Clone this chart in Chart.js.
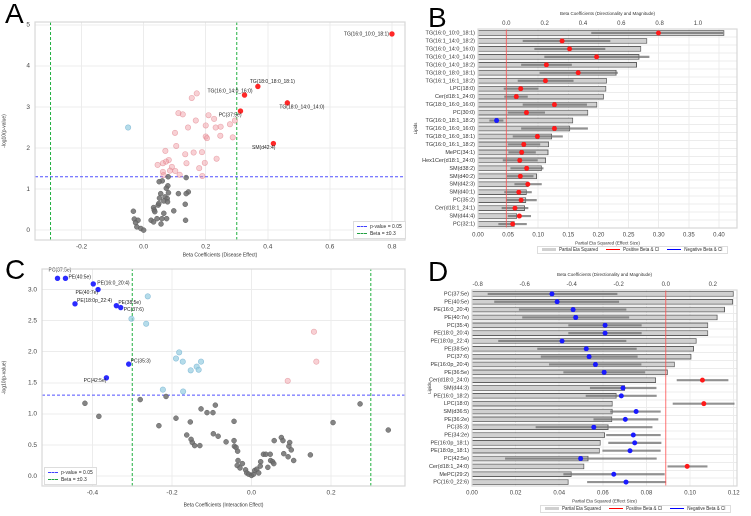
<!DOCTYPE html>
<html>
<head>
<meta charset="utf-8">
<script src="https://cdn.jsdelivr.net/npm/chart.js@4/dist/chart.umd.min.js"></script>
<style>
  body { margin: 0; background: #fff; font-family: "Liberation Sans", Arial, sans-serif; }
  #page { position: relative; width: 751px; height: 516px; overflow: hidden; }
  .pane { position: absolute; }
  .letter { position: absolute; font-size: 28px; color: #000; z-index: 5; }
  .lgd { position: absolute; font-size: 5px; color: #333; background: rgba(255,255,255,0.9); border: 1px solid #ddd; padding: 1px 3px; line-height: 7px; z-index: 5; }
  .lgd span.sw { display: inline-block; width: 10px; vertical-align: middle; margin-right: 3px; }
  .hl { position: absolute; font-size: 4.5px; color: #333; white-space: nowrap; border: 1px solid #ddd; padding: 0 4px; line-height: 6px; z-index: 5; }
  .hl span.sw { display: inline-block; width: 14px; height: 3px; vertical-align: middle; margin: 0 3px 0 8px; }
</style>
</head>
<body>
<div id="page">
  <canvas id="chartA" class="pane" style="left:0;top:0;z-index:1"></canvas>
  <canvas id="chartC" class="pane" style="left:0;top:258px;z-index:1"></canvas>
  <canvas id="chartB" class="pane" style="left:405px;top:0;z-index:2"></canvas>
  <canvas id="chartD" class="pane" style="left:405px;top:258px;z-index:2"></canvas>
  <div class="letter" style="left:5px;top:-2px">A</div>
  <div class="letter" style="left:428px;top:2px">B</div>
  <div class="letter" style="left:5px;top:254px">C</div>
  <div class="letter" style="left:428px;top:256px">D</div>
  <div class="lgd" style="left:353px;top:221px">
    <div><span class="sw" style="border-top:1px dashed #4040ff"></span>p-value = 0.05</div>
    <div><span class="sw" style="border-top:1px dashed #20a040"></span>Beta = ±0.3</div>
  </div>
  <div class="lgd" style="left:44px;top:467px">
    <div><span class="sw" style="border-top:1px dashed #4040ff"></span>p-value = 0.05</div>
    <div><span class="sw" style="border-top:1px dashed #20a040"></span>Beta = ±0.3</div>
  </div>
  <div class="hl" style="left:537px;top:246px"><span class="sw" style="background:#d0d0d0;margin-left:0"></span>Partial Eta Squared<span class="sw" style="height:1px;background:#f00"></span>Positive Beta &amp; CI<span class="sw" style="height:1px;background:#00f"></span>Negative Beta &amp; CI</div>
  <div class="hl" style="left:540px;top:505px"><span class="sw" style="background:#d0d0d0;margin-left:0"></span>Partial Eta Squared<span class="sw" style="height:1px;background:#f00"></span>Positive Beta &amp; CI<span class="sw" style="height:1px;background:#00f"></span>Negative Beta &amp; CI</div>
</div>
<script>
// ---------- Panel A: disease effect volcano ----------
const aGray = [[0.079,1.3],[0.137,1.28],[0.06,1.2],[0.05,1.18],[0.078,1.08],[0.073,1.02],[0.144,0.93],[0.137,0.89],[0.112,0.89],[0.08,0.91],[0.055,0.89],[0.069,0.81],[0.051,0.78],[0.076,0.77],[0.065,0.71],[0.077,0.69],[0.047,0.61],[0.134,0.63],[0.032,0.55],[0.034,0.49],[0.036,0.45],[0.097,0.47],[-0.033,0.46],[-0.03,0.27],[-0.018,0.24],[-0.026,0.18],[-0.022,0.08],[-0.009,0.04],[0,0],[0.024,0.24],[0.032,0.2],[0.043,0.28],[0.059,0.28],[0.074,0.28],[0.056,0.15],[0.135,0.24],[0.049,0.65],[0.065,0.41]];
const aPink = [[0.171,3.33],[0.155,3.22],[0.112,2.85],[0.126,2.82],[0.168,2.67],[0.209,2.8],[0.227,2.71],[0.294,2.67],[0.143,2.5],[0.2,2.55],[0.232,2.5],[0.248,2.52],[0.278,2.58],[0.101,2.37],[0.2,2.28],[0.204,2.24],[0.247,2.3],[0.287,2.26],[0.105,2.05],[0.07,1.93],[0.134,1.85],[0.161,1.89],[0.188,1.9],[0.235,1.74],[0.081,1.71],[0.072,1.67],[0.062,1.63],[0.045,1.59],[0.091,1.54],[0.138,1.63],[0.197,1.64],[0.179,1.51],[0.102,1.44],[0.062,1.42],[0.085,1.45],[0.116,1.35],[0.189,1.32],[0.064,1.34]];
const aBlue = [[-0.05,2.5]];
const aSigNames = ['TG(16:0_10:0_18:1)','TG(18:0_18:0_18:1)','TG(16:0_14:0_16:0)','TG(18:0_14:0_14:0)','PC(37:5e)','SM(d42:4)'];
const aSigBeta = [0.80, 0.368, 0.325, 0.463, 0.312, 0.418];
const aSigLogP = [4.78, 3.5, 3.29, 3.1, 2.9, 2.11];
const aTicksX = [-0.2, 0, 0.2, 0.4, 0.6, 0.8];
const aTicksY = [0, 1, 2, 3, 4, 5];

// ---------- Panel C: interaction effect volcano ----------
const cGray = [[-0.419,1.17],[-0.384,0.96],[-0.28,1.23],[-0.215,1.28],[-0.233,0.81],[-0.19,0.93],[-0.154,0.87],[-0.127,1.08],[-0.112,1.02],[-0.097,1.02],[-0.091,1.14],[-0.096,0.68],[-0.084,0.64],[-0.163,0.66],[-0.152,0.59],[-0.149,0.54],[-0.143,0.49],[-0.13,0.49],[-0.064,0.55],[-0.044,0.88],[-0.044,0.57],[-0.043,0.48],[-0.039,0.46],[-0.035,0.4],[-0.034,0.25],[-0.023,0.2],[-0.036,0.17],[-0.029,0.13],[-0.015,0.1],[-0.012,0.05],[-0.007,0.03],[0,0.01],[0.005,0.03],[0.008,0.09],[0.013,0.11],[0.018,0.05],[0.023,0.23],[0.022,0.16],[0.03,0.35],[0.036,0.35],[0.047,0.35],[0.041,0.14],[0.048,0.25],[0.053,0.23],[0.056,0.2],[0.057,0.57],[0.075,0.62],[0.079,0.57],[0.081,0.36],[0.092,0.31],[0.094,0.48],[0.096,0.54],[0.1,0.42],[0.106,0.25],[0.148,0.34],[0.205,0.86],[0.273,1.16],[0.344,0.74]];
const cLightBlue = [[-0.261,2.89],[-0.302,2.53],[-0.265,2.45],[-0.182,1.99],[-0.19,1.89],[-0.173,1.84],[-0.127,1.84],[-0.138,1.76],[-0.153,1.7],[-0.133,1.71],[-0.223,1.39],[-0.172,1.36]];
const cPink = [[0.157,2.32],[0.163,1.84],[0.091,1.53]];
const cSigNames = ['PC(37:5e)','PE(40:5e)','PE(16:0_20:4)','PE(40:7e)','PE(18:0p_22:4)','PE(38:5e)','PC(37:6)','PC(35:3)','PC(42:5e)'];
const cSigBeta = [-0.488, -0.468, -0.398, -0.386, -0.444, -0.34, -0.329, -0.309, -0.365];
const cSigLogP = [3.18, 3.18, 3.09, 3.0, 2.77, 2.74, 2.71, 1.8, 1.58];
const cTicksX = [-0.4, -0.2, 0, 0.2];
const cTicksY = [0, 0.5, 1, 1.5, 2, 2.5, 3];

const pThreshold = -Math.log10(0.05);
const betaCut = 0.3;

// ---------- Panel B: disease effect sizes ----------
const bLipids = ['TG(16:0_10:0_18:1)','TG(16:1_14:0_18:2)','TG(16:0_14:0_16:0)','TG(16:0_14:0_14:0)','TG(16:0_14:0_18:2)','TG(18:0_18:0_18:1)','TG(16:1_16:1_18:2)','LPC(18:0)','Cer(d18:1_24:0)','TG(18:0_16:0_16:0)','PC(30:0)','TG(16:0_18:1_18:2)','TG(16:0_16:0_16:0)','TG(18:0_16:0_18:1)','TG(16:0_16:1_18:2)','MePC(34:1)','Hex1Cer(d18:1_24:0)','SM(d38:2)','SM(d40:2)','SM(d42:3)','SM(d40:1)','PC(35:2)','Cer(d18:1_24:1)','SM(d44:4)','PC(32:1)'];
const bEta = [0.409,0.281,0.271,0.268,0.264,0.230,0.214,0.213,0.209,0.198,0.183,0.158,0.153,0.123,0.118,0.117,0.113,0.106,0.098,0.084,0.081,0.080,0.078,0.065,0.061];
const bBeta = [0.794,0.291,0.33,0.471,0.209,0.375,0.204,0.075,0.052,0.251,0.105,-0.051,0.251,0.162,0.091,0.08,0.07,0.106,0.073,0.112,0.065,0.077,0.045,0.068,0.033];
const bLow = [0.445,0.087,0.148,0.2,0.079,0.175,0.061,-0.012,-0.009,0.087,0.009,-0.087,0.079,0.035,0.009,0.012,-0.017,0.023,0.005,0.044,-0.009,0,-0.023,0.009,-0.04];
const bHigh = [1.13,0.541,0.515,0.745,0.34,0.58,0.349,0.166,0.11,0.419,0.2,-0.017,0.424,0.293,0.175,0.152,0.162,0.192,0.14,0.183,0.131,0.157,0.113,0.127,0.105];
const bTicksEta = [0, 0.05, 0.1, 0.15, 0.2, 0.25, 0.3, 0.35, 0.4];
const bTicksBeta = [0, 0.2, 0.4, 0.6, 0.8, 1.0];

// ---------- Panel D: interaction effect sizes ----------
const dLipids = ['PC(37:5e)','PE(40:5e)','PE(16:0_20:4)','PE(40:7e)','PC(35:4)','PE(18:0_20:4)','PE(18:0p_22:4)','PE(38:5e)','PC(37:6)','PE(16:0p_20:4)','PE(36:5e)','Cer(d18:0_24:0)','SM(d44:3)','PE(16:0_18:2)','LPC(18:0)','SM(d36:5)','PE(36:2e)','PC(35:3)','PE(34:2e)','PE(16:0p_18:1)','PE(18:0p_18:1)','PC(42:5e)','Cer(d18:1_24:0)','MePC(29:2)','PC(16:0_22:6)'];
const dEta = [0.12,0.1197,0.116,0.1126,0.1083,0.1083,0.103,0.1018,0.1006,0.093,0.0898,0.0844,0.0702,0.0663,0.0645,0.0645,0.0643,0.0626,0.061,0.059,0.0586,0.0534,0.0515,0.0457,0.0443];
const dBeta = [-0.484,-0.462,-0.394,-0.383,-0.258,-0.258,-0.441,-0.338,-0.326,-0.299,-0.262,0.156,-0.182,-0.189,0.162,-0.126,-0.172,-0.306,-0.138,-0.132,-0.152,-0.362,0.091,-0.221,-0.169];
const dLow = [-0.756,-0.728,-0.623,-0.609,-0.413,-0.413,-0.711,-0.545,-0.53,-0.495,-0.434,0.048,-0.321,-0.339,0.031,-0.235,-0.306,-0.552,-0.252,-0.243,-0.268,-0.682,0.009,-0.434,-0.333];
const dHigh = [-0.207,-0.2,-0.169,-0.157,-0.104,-0.104,-0.169,-0.125,-0.121,-0.105,-0.089,0.265,-0.041,-0.04,0.291,-0.023,-0.033,-0.058,-0.023,-0.02,-0.023,-0.04,0.176,-0.006,0];
const dTicksEta = [0, 0.02, 0.04, 0.06, 0.08, 0.1, 0.12];
const dTicksBeta = [-0.8, -0.6, -0.4, -0.2, 0, 0.2];

const FONT = "'Liberation Sans', Arial, sans-serif";
Chart.defaults.font.family = FONT;
Chart.defaults.animation = false;
Chart.defaults.devicePixelRatio = 2;

const toPts = arr => arr.map(p => ({ x: p[0], y: p[1] }));
const zip = (xs, ys) => xs.map((x, i) => ({ x: x, y: ys[i] }));
const fixTicks = list => (s => { s.ticks = list.map(v => ({ value: v })); });

// frame around the plot area, like seaborn whitegrid
const framePlugin = {
  id: 'frame',
  afterDraw(chart) {
    const a = chart.chartArea, c = chart.ctx;
    c.save(); c.strokeStyle = '#d8d8d8'; c.lineWidth = 1.2;
    c.strokeRect(a.left, a.top, a.right - a.left, a.bottom - a.top); c.restore();
  }
};

// text next to labelled points; shift is [dx, dy, align]
const labelPlugin = {
  id: 'ptLabels',
  afterDatasetsDraw(chart) {
    const c = chart.ctx;
    chart.data.datasets.forEach((ds, di) => {
      if (!ds.names) return;
      const meta = chart.getDatasetMeta(di);
      c.save(); c.font = '5px ' + FONT; c.fillStyle = '#222'; c.textBaseline = 'middle';
      meta.data.forEach((pt, i) => {
        const s = ds.shift[i];
        c.textAlign = s[2];
        c.fillText(ds.names[i], pt.x + s[0], pt.y + s[1]);
      });
      c.restore();
    });
  }
};

// red vertical line at beta = 0 on the top axis
const zeroLinePlugin = {
  id: 'zeroLine',
  afterDatasetsDraw(chart) {
    const a = chart.chartArea, c = chart.ctx;
    const x = chart.scales.x2.getPixelForValue(0);
    c.save(); c.strokeStyle = 'rgba(255,80,80,0.8)'; c.lineWidth = 1;
    c.beginPath(); c.moveTo(x, a.top); c.lineTo(x, a.bottom); c.stroke(); c.restore();
  }
};

function volcano(id, w, h, cfg) {
  const el = document.getElementById(id);
  el.style.width = w + 'px'; el.style.height = h + 'px';
  const line = (pts, col) => ({ type: 'line', data: pts, borderColor: col, borderWidth: 1, borderDash: [3, 2], pointRadius: 0, order: 5 });
  const xs = cfg.x, ys = cfg.y;
  return new Chart(el, {
    type: 'scatter',
    data: { datasets: [
      line([{ x: xs.min, y: pThreshold }, { x: xs.max, y: pThreshold }], '#5050ff'),
      line([{ x: -betaCut, y: ys.min }, { x: -betaCut, y: ys.max }], '#20b040'),
      line([{ x: betaCut, y: ys.min }, { x: betaCut, y: ys.max }], '#20b040'),
      { data: toPts(cfg.gray), backgroundColor: 'rgba(110,110,110,0.85)', borderColor: 'rgba(90,90,90,0.9)', borderWidth: 0.5, pointRadius: 2.5 },
      { data: toPts(cfg.pink), backgroundColor: 'rgba(240,150,160,0.45)', borderColor: 'rgba(220,120,130,0.6)', borderWidth: 0.6, pointRadius: 2.7 },
      { data: toPts(cfg.light), backgroundColor: 'rgba(150,205,225,0.7)', borderColor: 'rgba(120,180,210,0.8)', borderWidth: 0.6, pointRadius: 2.7 },
      { data: cfg.sig, names: cfg.names, shift: cfg.shift, backgroundColor: cfg.sigColor, borderColor: cfg.sigColor, pointRadius: 2.2 }
    ] },
    options: {
      responsive: false,
      layout: { padding: cfg.pad },
      plugins: { legend: { display: false }, tooltip: { enabled: false } },
      scales: {
        x: { min: xs.min, max: xs.max, afterBuildTicks: fixTicks(xs.ticks), afterFit: s => { s.height = xs.h; },
             grid: { color: '#ececec', drawTicks: false }, border: { display: false },
             ticks: { font: { size: 6.5 }, color: '#444', padding: 3, callback: v => v.toFixed(1) },
             title: { display: true, text: xs.title, font: { size: 5 }, color: '#333', padding: 0 } },
        y: { min: ys.min, max: ys.max, afterBuildTicks: fixTicks(ys.ticks), afterFit: s => { s.width = ys.w; },
             grid: { color: '#ececec', drawTicks: false }, border: { display: false },
             ticks: { font: { size: 6.5 }, color: '#444', padding: 5, callback: ys.fmt },
             title: { display: true, text: '-log10(p-value)', font: { size: 5 }, color: '#333', padding: 1 } }
      }
    },
    plugins: [framePlugin, labelPlugin]
  });
}

volcano('chartA', 410, 258, {
  gray: aGray, pink: aPink, light: aBlue,
  sig: zip(aSigBeta, aSigLogP), names: aSigNames, sigColor: '#ff2828',
  shift: [[-3, 0, 'right'], [-8, -5, 'left'], [8, -4, 'right'], [-8, 4, 'left'], [1, 4, 'right'], [2, 4, 'right']],
  pad: { top: 22, right: 5, left: 0, bottom: 0 },
  x: { min: -0.35, max: 0.842, ticks: aTicksX, h: 18, title: 'Beta Coefficients (Disease Effect)' },
  y: { min: -0.24, max: 5.07, ticks: aTicksY, w: 35, fmt: v => v.toFixed(0) }
});

volcano('chartC', 410, 258, {
  gray: cGray, pink: cPink, light: cLightBlue,
  sig: zip(cSigBeta, cSigLogP), names: cSigNames, sigColor: '#2b2bff',
  shift: [[-9, -8, 'left'], [3, -1, 'left'], [4, -1, 'left'], [0, 3, 'right'], [2, -3, 'left'], [2, -3, 'left'], [3, 2, 'left'], [2, -3, 'left'], [0, 3, 'right']],
  pad: { top: 11, right: 5, left: 0, bottom: 8 },
  x: { min: -0.527, max: 0.386, ticks: cTicksX, h: 22, title: 'Beta Coefficients (Interaction Effect)' },
  y: { min: -0.16, max: 3.33, ticks: cTicksY, w: 42, fmt: v => v.toFixed(1) }
});

function effectChart(id, cfg) {
  const el = document.getElementById(id);
  el.style.width = '346px'; el.style.height = '258px';
  const col = cfg.beta.map(b => b >= 0 ? '#ff1a1a' : '#1a1aff');
  return new Chart(el, {
    type: 'bar',
    data: {
      labels: cfg.lipids,
      datasets: [
        { type: 'line', indexAxis: 'y', xAxisID: 'x2', yAxisID: 'y', showLine: false, order: 0,
          data: cfg.beta.map((b, i) => ({ x: b, y: cfg.lipids[i] })),
          pointRadius: 2, pointBackgroundColor: col, pointBorderColor: col },
        { xAxisID: 'x2', yAxisID: 'y', grouped: false, order: 1, barThickness: 1.5,
          data: cfg.low.map((l, i) => [l, cfg.high[i]]), backgroundColor: 'rgba(110,110,110,0.75)' },
        { xAxisID: 'x', yAxisID: 'y', grouped: false, order: 2, barPercentage: 0.72, categoryPercentage: 1,
          data: cfg.eta, backgroundColor: '#d0d0d0', borderColor: '#606060', borderWidth: 1 }
      ]
    },
    options: {
      indexAxis: 'y',
      responsive: false,
      layout: { padding: cfg.pad },
      plugins: { legend: { display: false }, tooltip: { enabled: false } },
      scales: {
        y: { type: 'category', offset: true, afterFit: s => { s.width = cfg.yw; },
             grid: { color: '#ececec', drawTicks: false }, border: { display: false },
             ticks: { font: { size: 5.5 }, color: '#333', padding: 3, autoSkip: false },
             title: { display: true, text: 'Lipids', font: { size: 4.5 }, color: '#333', padding: 0 } },
        x: { position: 'bottom', min: 0, max: cfg.etaMax, afterBuildTicks: fixTicks(cfg.etaTicks), afterFit: s => { s.height = 18; },
             grid: { color: '#ececec', drawTicks: false }, border: { display: false },
             ticks: { font: { size: 6 }, color: '#444', padding: 3, callback: v => v.toFixed(2) },
             title: { display: true, text: 'Partial Eta Squared (Effect Size)', font: { size: 4.5 }, color: '#333', padding: 0 } },
        x2: { position: 'top', min: cfg.betaMin, max: cfg.betaMax, afterBuildTicks: fixTicks(cfg.betaTicks), afterFit: s => { s.height = cfg.th; },
              grid: { display: false, drawTicks: false }, border: { display: false },
              ticks: { font: { size: 6 }, color: '#444', padding: 2, callback: v => v.toFixed(1) },
              title: { display: true, text: 'Beta Coefficients (Directionality and Magnitude)', font: { size: 4.5 }, color: '#333', padding: 1 } }
      }
    },
    plugins: [framePlugin, zeroLinePlugin]
  });
}

effectChart('chartB', {
  lipids: bLipids, eta: bEta, beta: bBeta, low: bLow, high: bHigh,
  etaMax: 0.43, etaTicks: bTicksEta, betaMin: -0.148, betaMax: 1.204, betaTicks: bTicksBeta,
  yw: 65, th: 19, pad: { top: 10, right: 14, left: 8, bottom: 12 }
});

effectChart('chartD', {
  lipids: dLipids, eta: dEta, beta: dBeta, low: dLow, high: dHigh,
  etaMax: 0.1215, etaTicks: dTicksEta, betaMin: -0.824, betaMax: 0.303, betaTicks: dTicksBeta,
  yw: 45, th: 19, pad: { top: 13, right: 14, left: 22, bottom: 12 }
});
</script>
</body>
</html>
